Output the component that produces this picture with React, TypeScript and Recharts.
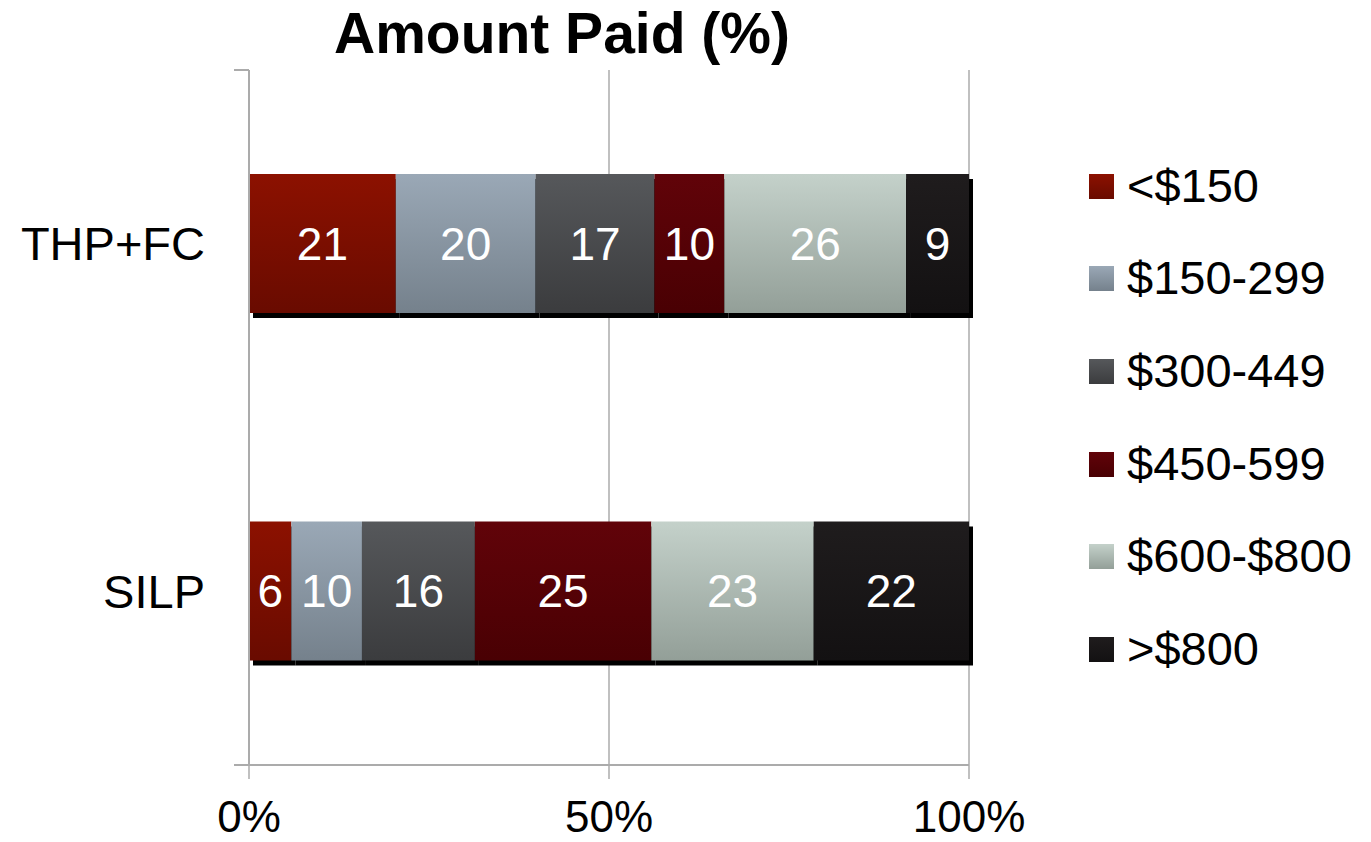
import React from 'react';
import { BarChart, Bar, XAxis, YAxis, CartesianGrid, Legend, LabelList } from 'recharts';

const categories = ['THP+FC', 'SILP'];
const seriesNames = ['<$150', '$150-299', '$300-449', '$450-599', '$600-$800', '>$800'];
const thpValues = [21, 20, 17, 10, 26, 9];
const silpValues = [6, 10, 16, 25, 23, 22];
const xTicks = [0, 0.5, 1];
const edgeTicks = [0, 1, 2];

// top / bottom of each segment's vertical gradient
const gradTop = ['#8c1100', '#9aa8b6', '#56585b', '#610309', '#c4d1ca', '#1f1c1d'];
const gradBottom = ['#690b00', '#75818c', '#3b3c3e', '#490003', '#939f98', '#131112'];

const seriesKeys = seriesNames.map((_, i) => `s${i}`);
const valuesByCategory = [thpValues, silpValues];

const chartData = categories.map((name, ci) => {
    const row: any = { name };
    seriesKeys.forEach((k, si) => { row[k] = valuesByCategory[ci][si]; });
    return row;
});

const font = '"Liberation Sans", Arial, sans-serif';
const axisGray = '#ababab';

const ShadowBar = (props: any) => {
    const { x, y, width, height, fill } = props;
    if (!width || !height) return null;
    return (
        <g>
            <rect x={x + 4} y={y + 5} width={width} height={height} fill="#000" />
            <rect x={x} y={y} width={width} height={height} fill={fill} />
        </g>
    );
};

const renderLegend = () => (
    <div style={{ fontFamily: font }}>
        {seriesNames.map((n, i) => (
            <div key={n} style={{ display: 'flex', alignItems: 'center', height: 92.6 }}>
                <svg width={25} height={25} style={{ marginRight: 13, marginTop: 2 }}>
                    <rect x={0} y={0} width={25} height={25} fill={`url(#grad${i})`} />
                </svg>
                <span style={{ fontSize: 47, color: '#000', lineHeight: '47px' }}>{n}</span>
            </div>
        ))}
    </div>
);

export default function App() {
    return (
        <div style={{ position: 'absolute', left: 0, top: 0, width: 1371, height: 842, background: '#fff', fontFamily: font }}>
            <div style={{ position: 'absolute', left: 262, top: 5, width: 600, textAlign: 'center', fontSize: 57, lineHeight: '57px', fontWeight: 'bold', color: '#000' }}>
                Amount Paid (%)
            </div>
            <BarChart
                width={1371}
                height={842}
                data={chartData}
                layout="vertical"
                stackOffset="expand"
                barSize={139}
                margin={{ top: 70, right: 402, bottom: 0, left: 0 }}
            >
                <defs>
                    {gradTop.map((c, i) => (
                        <linearGradient key={i} id={`grad${i}`} x1="0" y1="0" x2="0" y2="1">
                            <stop offset="0%" stopColor={c} />
                            <stop offset="100%" stopColor={gradBottom[i]} />
                        </linearGradient>
                    ))}
                </defs>
                <CartesianGrid horizontal={false} stroke={axisGray} strokeWidth={1.5} yAxisId="cat" />
                <XAxis
                    type="number"
                    domain={[0, 1]}
                    ticks={xTicks}
                    tickFormatter={(v: number) => `${Math.round(v * 100)}%`}
                    axisLine={{ stroke: axisGray, strokeWidth: 2 }}
                    tickLine={{ stroke: axisGray, strokeWidth: 1.5 }}
                    tickSize={14}
                    tickMargin={22}
                    tick={{ fontSize: 44, fill: '#000', fontFamily: font }}
                    height={77}
                />
                {/* inner axis: only the boundary tick marks between categories */}
                <YAxis
                    yAxisId={0}
                    orientation="left"
                    type="number"
                    domain={[0, 2]}
                    ticks={edgeTicks}
                    interval={0}
                    reversed
                    width={15}
                    tickFormatter={() => ''}
                    axisLine={{ stroke: axisGray, strokeWidth: 2 }}
                    tickLine={{ stroke: axisGray, strokeWidth: 2 }}
                    tickSize={15}
                />
                <YAxis
                    yAxisId="cat"
                    type="category"
                    dataKey="name"
                    width={234}
                    axisLine={false}
                    tickLine={false}
                    tickSize={13}
                    tickMargin={16}
                    tick={{ fontSize: 47, fill: '#000', fontFamily: font }}
                />
                <Legend
                    layout="horizontal"
                    align="center"
                    verticalAlign="middle"
                    content={renderLegend}
                    wrapperStyle={{ left: 1089, top: 139, width: 280, height: 560 }}
                />
                {seriesKeys.map((k, i) => (
                    <Bar
                        key={k}
                        yAxisId="cat"
                        dataKey={k}
                        name={seriesNames[i]}
                        stackId="a"
                        fill={`url(#grad${i})`}
                        shape={ShadowBar}
                        isAnimationActive={false}
                    >
                        <LabelList dataKey={k} position="center" fill="#fff" fontSize={46} fontFamily={font} />
                    </Bar>
                ))}
            </BarChart>
        </div>
    );
}
